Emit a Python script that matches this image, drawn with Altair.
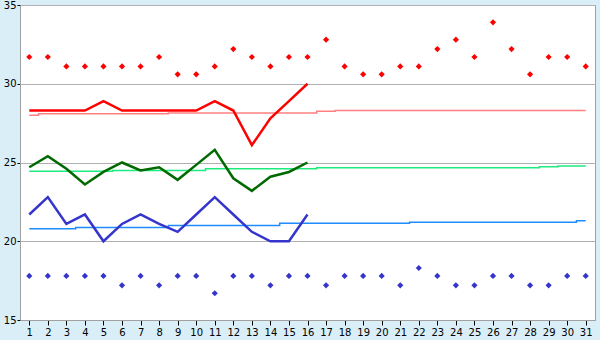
import altair as alt
import pandas as pd

days = list(range(1, 32))
high_pts = [31.7, 31.7, 31.1, 31.1, 31.1, 31.1, 31.1, 31.7, 30.6, 30.6, 31.1, 32.2, 31.7, 31.1, 31.7, 31.7,
            32.8, 31.1, 30.6, 30.6, 31.1, 31.1, 32.2, 32.8, 31.7, 33.9, 32.2, 30.6, 31.7, 31.7, 31.1]
low_pts = [17.8, 17.8, 17.8, 17.8, 17.8, 17.2, 17.8, 17.2, 17.8, 17.8, 16.7, 17.8, 17.8, 17.2, 17.8, 17.8,
           17.2, 17.8, 17.8, 17.8, 17.2, 18.3, 17.8, 17.2, 17.2, 17.8, 17.8, 17.2, 17.2, 17.8, 17.8]

obs_days = list(range(1, 17))
high_line = [28.3, 28.3, 28.3, 28.3, 28.9, 28.3, 28.3, 28.3, 28.3, 28.3, 28.9, 28.3, 26.1, 27.8, 28.9, 30.0]
mean_line = [24.7, 25.4, 24.6, 23.6, 24.4, 25.0, 24.5, 24.7, 23.9, 24.85, 25.8, 24.0, 23.2, 24.1, 24.4, 25.0]
low_line = [21.7, 22.8, 21.1, 21.7, 20.0, 21.1, 21.7, 21.1, 20.6, 21.7, 22.8, 21.7, 20.6, 20.0, 20.0, 21.7]

high_norm = [28.0, 28.1, 28.1, 28.1, 28.1, 28.1, 28.1, 28.1, 28.15, 28.15, 28.15, 28.15, 28.15, 28.15, 28.15, 28.15,
             28.25, 28.3, 28.3, 28.3, 28.3, 28.3, 28.3, 28.3, 28.3, 28.3, 28.3, 28.3, 28.3, 28.3, 28.3]
mean_norm = [24.45, 24.45, 24.45, 24.45, 24.45, 24.5, 24.5, 24.5, 24.5, 24.5, 24.6, 24.6, 24.6, 24.6, 24.6, 24.6,
             24.67, 24.67, 24.67, 24.67, 24.67, 24.67, 24.67, 24.67, 24.67, 24.67, 24.67, 24.67, 24.73, 24.78, 24.78]
low_norm = [20.8, 20.8, 20.8, 20.88, 20.88, 20.88, 20.88, 20.88, 21.0, 21.0, 21.0, 21.0, 21.0, 21.0, 21.15, 21.15,
            21.15, 21.15, 21.15, 21.15, 21.15, 21.2, 21.2, 21.2, 21.2, 21.2, 21.2, 21.2, 21.2, 21.2, 21.3]

y_ticks = [15, 20, 25, 30, 35]

x_scale = alt.Scale(domain=[0.5, 31.5], nice=False, zero=False)
y_scale = alt.Scale(domain=[15, 35], nice=False, zero=False)

x_axis = alt.Axis(values=days, grid=False, tickSize=5, tickColor="black", labelPadding=2,
                  domainColor="#A0A0A0", labelFont="DejaVu Sans", labelFontSize=10, labelColor="black",
                  title=None, labelAngle=0)
y_axis = alt.Axis(values=y_ticks, grid=True, gridColor="#B0B0B0", tickSize=3, tickColor="black",
                  labelPadding=1, domainColor="#A0A0A0", labelFont="DejaVu Sans", labelFontSize=10,
                  labelColor="black", title=None)


def enc(chart):
    return chart.encode(
        x=alt.X("day:Q", scale=x_scale, axis=x_axis),
        y=alt.Y("temp:Q", scale=y_scale, axis=y_axis),
    )


def line_layer(xs, ys, color, width, interp="linear"):
    df = pd.DataFrame({"day": xs, "temp": ys})
    return enc(alt.Chart(df).mark_line(color=color, strokeWidth=width, interpolate=interp))


def point_layer(xs, ys, color):
    df = pd.DataFrame({"day": xs, "temp": ys})
    return enc(alt.Chart(df).mark_point(shape="diamond", filled=True, size=38, color=color, opacity=1))


chart = alt.layer(
    line_layer(days, high_norm, "#FF8080", 1.5, "step"),
    line_layer(days, mean_norm, "#1EEB7E", 1.5, "step"),
    line_layer(days, low_norm, "#1E8CFF", 1.5, "step"),
    line_layer(obs_days, high_line, "#FF0000", 2.5),
    line_layer(obs_days, mean_line, "#006A00", 2.5),
    line_layer(obs_days, low_line, "#3535CC", 2.5),
    point_layer(days, high_pts, "#FF0000"),
    point_layer(days, low_pts, "#3535CC"),
).properties(
    width=575,
    height=315,
    autosize=alt.AutoSizeParams(type="none"),
    padding={"left": 20, "top": 5, "right": 5, "bottom": 20},
    background="#D9EEF6",
).configure_view(stroke="#A0A0A0", fill="white")

chart.save("out.html", embed_options={"renderer": "svg", "actions": False})
